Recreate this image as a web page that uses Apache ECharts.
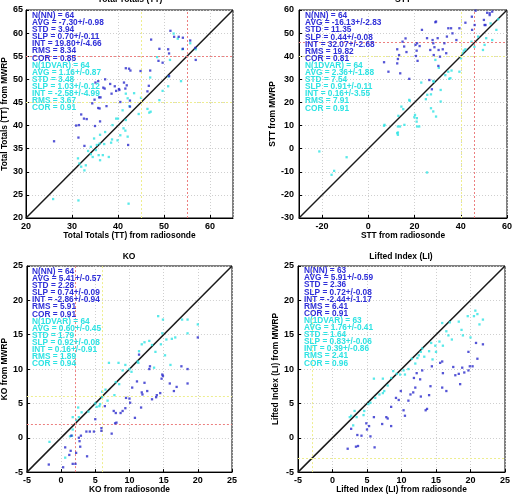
<!DOCTYPE html>
<html lang="en">
<head>
<meta charset="UTF-8">
<title>MWRP vs radiosonde indices</title>
<script src="https://cdn.jsdelivr.net/npm/echarts@6/dist/echarts.min.js"></script>
<style>
    html, body { margin: 0; padding: 0; background: #fff; }
    #chart { width: 525px; height: 495px; }
</style>
</head>
<body>
<div id="chart"></div>
<script>
// scatter data: [radiosonde, MWRP]
var ttNN = [[51.4,60.5],[52.2,59.2],[53.2,59.2],[54.1,59.0],[55.7,58.4],[47.2,58.6],[49.0,56.6],[50.9,56.5],[51.1,55.6],[54.1,56.6],[56.8,56.8],[56.9,54.2],[48.8,54.0],[49.7,53.6],
  [41.7,52.4],[42.4,52.3],[42.7,51.9],[44.9,51.8],[47.0,51.9],[51.1,50.7],[37.2,50.0],[35.7,49.6],[35.1,49.3],[36.8,48.2],[38.3,49.0],[39.3,48.5],[40.2,47.9],
  [41.3,49.3],[41.6,48.0],[39.6,47.5],[37.1,48.0],[38.6,46.9],[46.4,47.4],[46.7,48.6],[40.5,45.1],[34.9,45.6],[34.4,44.8],[35.7,43.8],[36.0,43.7],[37.5,44.2],
  [42.6,45.4],[42.6,44.1],[36.2,46.1],[35.9,46.1],[32.0,42.4],[32.6,41.5],[33.2,41.4],[30.9,40.0],[31.5,40.1],[35.0,39.9],[36.1,40.9],[26.1,36.6],[31.4,37.4],
  [32.7,35.6],[42.2,35.8],[40.3,47.7],[41.9,48.7]];
var ttVAR = [[52.1,59.9],[55.7,57.8],[56.9,56.5],[54.0,56.5],[51.3,54.2],[47.0,50.4],[51.0,50.6],[50.9,48.5],[53.7,49.6],[49.7,47.5],[49.0,45.5],[46.4,43.6],
  [47.1,43.0],[45.0,46.0],[42.5,44.2],[41.7,46.9],[42.1,45.9],[41.0,43.3],[39.6,41.5],[41.7,41.2],[41.2,39.4],[41.6,38.9],[42.1,37.6],[40.5,37.9],[39.9,36.8],
  [38.5,36.3],[38.7,37.0],[37.2,38.6],[36.1,38.0],[34.8,37.2],[35.4,35.8],[36.0,36.1],[35.2,34.7],[35.8,33.6],[36.7,33.6],[38.0,33.2],[36.1,32.5],[34.5,33.2],
  [34.1,33.8],[31.6,31.8],[32.0,31.1],[32.7,30.3],[33.0,31.4],[31.3,32.9],[34.1,35.4],[25.9,24.1],[31.4,23.8],[42.3,23.1],[44.5,42.5],[38.8,40.1],[40.0,41.5],
  [53.0,58.8],[48.5,54.8],[46.8,42.8],[43.5,47.0],[37.0,36.0],[33.5,34.5]];

var sttNN = [[46.4,59.7],[51.4,58.8],[52.5,57.8],[53.6,59.3],[50.0,55.7],[50.7,53.5],[46.0,53.5],[42.0,54.5],[44.8,57.1],[29.3,55.0],[34.6,52.1],[39.4,52.1],
  [36.4,49.9],[34.0,48.5],[38.1,47.0],[44.9,51.4],[23.2,51.4],[25.4,47.8],[27.8,47.0],[28.1,45.6],[28.6,43.9],[30.0,47.8],[32.9,45.6],[30.4,42.7],[32.2,43.0],
  [33.7,41.3],[31.0,39.8],[30.3,35.8],[26.4,29.7],[27.5,25.7],[21.1,45.6],[22.2,44.4],[20.4,44.9],[20.9,42.4],[20.6,40.1],[21.3,38.0],[26.8,42.7],[28.3,40.5],
  [16.1,47.7],[14.8,46.3],[15.5,44.2],[16.5,41.8],[12.5,43.0],[13.3,40.5],[12.8,38.8],[12.5,36.9],[6.8,37.4],[8.7,33.3],[13.8,32.6],[17.7,30.2],[29.0,54.7],
  [35.8,52.1],[50.3,53.5],[52.5,58.6]];
var sttVAR = [[56.2,56.0],[52.9,54.2],[55.4,51.4],[53.6,47.0],[51.0,47.8],[50.3,44.9],[49.6,42.7],[44.6,46.3],[45.9,44.1],[42.0,43.0],[41.3,42.4],[40.6,41.3],
  [40.1,39.1],[39.4,33.3],[34.6,33.3],[35.0,30.2],[33.3,31.8],[35.5,30.5],[29.0,38.4],[28.3,29.0],[28.1,29.3],[22.9,28.6],[25.5,23.3],[24.9,21.4],[27.1,23.5],
  [31.3,25.4],[31.3,20.4],[27.1,17.5],[28.1,16.1],[29.3,13.9],[17.9,20.7],[17.7,21.1],[14.3,18.2],[15.1,17.1],[20.2,14.6],[19.9,13.6],[21.0,13.2],[20.9,11.7],
  [21.1,9.6],[22.0,9.6],[13.0,14.2],[13.7,9.6],[12.8,9.6],[12.8,7.0],[12.5,6.7],[12.8,6.0],[15.6,10.3],[7.0,10.3],[6.8,9.9],[-21.2,-1.2],[-9.4,-3.7],
  [-15.9,-11.3],[-14.8,-9.6],[25.4,-10.3],[47.5,48.5],[36.0,33.8],[30.5,35.0]];

var koNN = [[20.0,14.6],[18.5,10.0],[17.6,10.4],[18.5,7.9],[16.9,7.4],[15.9,7.9],[14.8,9.2],[14.5,6.5],[14.0,6.2],[12.9,10.0],[11.4,12.1],[12.2,8.0],[11.8,6.6],
  [12.6,6.8],[13.3,5.6],[13.9,5.9],[10.4,7.3],[11.1,8.2],[11.7,4.4],[10.0,5.7],[9.4,4.3],[9.0,3.9],[8.7,3.6],[10.8,2.9],[10.1,5.1],[7.9,2.1],[8.1,2.2],[7.4,0.6],
  [6.4,4.6],[5.9,1.4],[5.9,1.0],[4.8,0.9],[4.2,0.9],[3.7,0.9],[2.9,0.3],[2.6,0.0],[1.5,0.3],[2.7,-0.5],[2.8,-1.3],[3.8,-2.7],[2.2,-2.2],[1.2,-2.5],[0.6,-1.4],
  [2.1,-3.8],[1.7,-3.8],[0.3,-4.3],[-1.8,-3.9],[8.0,3.6],[9.5,5.8],[14.7,8.6],[14.9,9.0],[13.0,10.4],[11.9,6.3],[16.5,6.8],[7.7,3.9],[5.0,2.7],[1.4,-1.9]];
var koVAR = [[14.2,17.7],[14.9,17.2],[17.7,17.2],[18.5,17.2],[20.0,16.5],[18.5,15.2],[14.8,15.2],[16.7,14.6],[16.2,14.4],[15.4,14.3],[14.6,13.6],[13.3,13.5],
  [12.2,13.9],[11.8,13.6],[12.9,14.1],[11.4,12.6],[11.2,11.1],[13.6,10.2],[11.3,10.9],[9.4,10.6],[8.4,10.9],[7.0,10.9],[10.0,10.0],[10.3,9.6],[9.0,9.8],
  [8.5,7.8],[8.0,8.1],[7.8,6.2],[6.5,7.0],[6.0,6.7],[6.8,5.4],[5.7,4.9],[5.6,4.6],[5.2,4.5],[5.0,5.0],[4.0,3.8],[3.0,3.7],[2.5,4.4],[2.6,3.0],[2.2,2.6],
  [1.7,3.0],[1.7,1.2],[1.6,0.3],[1.3,0.2],[-1.7,-0.6],[0.6,-2.9],[13.8,12.5],[15.2,12.0],[16.0,10.6],[6.0,5.9]];

var liNN = [[21.8,13.6],[20.8,13.8],[19.7,12.5],[21.0,11.5],[19.9,10.4],[18.8,10.2],[18.3,9.3],[17.5,10.3],[15.9,11.1],[15.6,10.9],[16.0,9.4],[15.9,7.3],
  [14.4,10.4],[13.0,9.8],[12.2,9.4],[12.7,8.5],[11.8,8.7],[12.0,7.3],[11.7,6.6],[12.8,6.0],[14.2,7.5],[11.0,5.4],[11.3,6.3],[9.9,6.8],[9.2,5.8],[9.6,5.5],
  [8.5,4.5],[10.3,4.0],[10.5,3.2],[13.5,4.0],[13.7,4.2],[8.0,2.8],[7.8,3.0],[7.2,2.0],[6.0,3.0],[5.3,1.7],[4.9,2.1],[5.0,1.2],[5.5,0.2],[4.2,0.3],[3.6,0.4],
  [6.1,-1.4],[3.7,-1.2],[3.4,-1.3],[2.7,1.3],[2.2,-1.6],[19.1,9.5],[19.7,9.8],[20.3,10.4],[17.8,9.1],[18.5,7.8],[16.5,6.8],[14.0,6.2],[8.5,1.7]];
var liVAR = [[20.7,18.5],[20.5,17.7],[21.8,17.2],[21.0,18.0],[21.3,16.5],[19.6,17.7],[20.0,14.6],[18.9,14.9],[18.7,15.7],[18.3,16.9],[17.0,16.8],[15.9,16.7],
  [16.8,14.9],[16.5,15.5],[17.3,14.3],[16.0,13.4],[15.5,14.0],[15.0,12.5],[14.9,13.4],[14.5,11.4],[14.3,13.8],[14.0,12.6],[13.3,11.8],[13.0,13.0],[12.8,12.5],
  [12.5,12.0],[12.3,11.6],[12.0,10.8],[11.5,11.5],[11.0,10.0],[10.5,9.2],[10.3,9.8],[9.8,9.2],[9.3,9.3],[8.8,9.7],[8.5,8.7],[8.0,7.6],[7.5,6.8],[7.3,8.6],
  [7.3,6.5],[6.8,6.3],[6.2,5.8],[6.0,8.6],[5.5,5.1],[5.2,4.9],[4.6,3.9],[4.5,3.3],[3.5,3.0],[3.2,3.9],[3.0,1.8],[2.7,3.2],[2.5,3.0]];

var titles = ['Total Totals (TT)', 'STT', 'KO', 'Lifted Index (LI)'];
var xNames = ['Total Totals (TT) from radiosonde', 'STT from radiosonde', 'KO from radiosonde', 'Lifted Index (LI) from radiosonde'];
var yNames = ['Total Totals (TT) from MWRP', 'STT from MWRP', 'KO from MWRP', 'Lifted Index (LI) from MWRP'];
var sttXTicks = [-20, 0, 20, 40, 60];

var statsNN = [
  ['N(NN) = 64', 'AVG = -7.30+/-0.98', 'STD = 3.94', 'SLP = 0.70+/-0.11', 'INT = 19.80+/-4.66', 'RMS = 8.34', 'COR = 0.85'],
  ['N(NN) = 64', 'AVG = -16.13+/-2.83', 'STD = 11.35', 'SLP = 0.44+/-0.08', 'INT = 32.07+/-2.68', 'RMS = 19.82', 'COR = 0.81'],
  ['N(NN) = 64', 'AVG = 5.41+/-0.57', 'STD = 2.28', 'SLP = 0.74+/-0.09', 'INT = -2.86+/-0.94', 'RMS = 5.91', 'COR = 0.91'],
  ['N(NN) = 63', 'AVG = 5.91+/-0.59', 'STD = 2.36', 'SLP = 0.72+/-0.08', 'INT = -2.44+/-1.17', 'RMS = 6.41', 'COR = 0.91']
];
var statsVAR = [
  ['N(1DVAR) = 64', 'AVG = 1.16+/-0.87', 'STD = 3.48', 'SLP = 1.03+/-0.12', 'INT = -2.58+/-4.99', 'RMS = 3.67', 'COR = 0.91'],
  ['N(1DVAR) = 64', 'AVG = 2.36+/-1.88', 'STD = 7.54', 'SLP = 0.91+/-0.11', 'INT = 0.16+/-3.55', 'RMS = 7.91', 'COR = 0.91'],
  ['N(1DVAR) = 64', 'AVG = 0.60+/-0.45', 'STD = 1.79', 'SLP = 0.92+/-0.08', 'INT = 0.16+/-0.91', 'RMS = 1.89', 'COR = 0.94'],
  ['N(1DVAR) = 63', 'AVG = 1.76+/-0.41', 'STD = 1.64', 'SLP = 0.83+/-0.06', 'INT = 0.39+/-0.86', 'RMS = 2.41', 'COR = 0.96']
];
// red / yellow threshold lines [red, yellow]
var thresholds = [[55, 45], [46, 40], [2, 6], [null, -3]];

var nnData = [ttNN, sttNN, koNN, liNN];
var varData = [ttVAR, sttVAR, koVAR, liVAR];

var FONT = 'Liberation Sans, Arial, sans-serif';
var BLUE = '#2f2fd8';
var CYAN = '#2fe3e3';

var layout = [
    {grid: {left: 26, top: 10, width: 207, height: 208}, min: 20, max: 65, xInt: 10, yInt: 5, yGap: 11, yMargin: 3, title: [130, 0], text: [32, 15.7]},
    {grid: {left: 299, top: 10, width: 208, height: 208}, min: -30, max: 60, xInt: null, yInt: 10, yGap: 15, yMargin: 5, title: [403, 0], text: [305, 16]},
    {grid: {left: 26, top: 266, width: 206, height: 207}, min: -5, max: 25, xInt: 5, yInt: 5, yGap: 11.5, yMargin: 4, title: [129, 257], text: [32, 271.7]},
    {grid: {left: 298, top: 266, width: 207, height: 207}, min: -5, max: 25, xInt: 5, yInt: 5, yGap: 11, yMargin: 4, title: [401, 257], text: [304, 271]}
];

var chart = echarts.init(document.getElementById('chart'));

var grids = [], xAxes = [], yAxes = [], series = [], graphics = [];

function baseAxis(name, gap) {
    return {
        type: 'value',
        name: name,
        nameLocation: 'middle',
        nameGap: gap,
        nameTextStyle: {color: '#000', fontSize: 8.4, fontWeight: 'bold', fontFamily: FONT},
        axisLine: {show: true, onZero: false, lineStyle: {color: '#000', width: 1}},
        axisTick: {show: true, inside: true, length: 3, lineStyle: {color: '#000'}},
        axisLabel: {color: '#000', fontSize: 9, fontWeight: 'bold', fontFamily: FONT, margin: 4},
        splitLine: {show: true, lineStyle: {color: '#cfcfcf', type: [1, 2], width: 1}}
    };
}

layout.forEach(function (p, i) {
    grids.push(Object.assign({show: true, borderColor: '#000', borderWidth: 1, containLabel: false}, p.grid));

    var xa = baseAxis(xNames[i], 12);
    xa.gridIndex = i;
    xa.min = p.min;
    xa.max = p.max;
    if (p.xInt) {
        xa.interval = p.xInt;
        xa.axisLabel.showMaxLabel = (p.max % p.xInt === 0);
    } else {
        xa.axisTick.customValues = sttXTicks;
        xa.axisLabel.customValues = sttXTicks;
    }
    xAxes.push(xa);

    var ya = baseAxis(yNames[i], p.yGap);
    ya.gridIndex = i;
    ya.min = p.min;
    ya.max = p.max;
    ya.interval = p.yInt;
    ya.axisLabel.margin = p.yMargin;
    yAxes.push(ya);

    var marks = [];
    var th = thresholds[i];
    if (th[0] !== null) {
        marks.push({xAxis: th[0], lineStyle: {color: '#ec7f7f'}});
        marks.push({yAxis: th[0], lineStyle: {color: '#ec7f7f'}});
    }
    if (th[1] !== null) {
        marks.push({xAxis: th[1], lineStyle: {color: '#eeee90'}});
        marks.push({yAxis: th[1], lineStyle: {color: '#eeee90'}});
    }

    // 1:1 line
    series.push({
        type: 'line', xAxisIndex: i, yAxisIndex: i,
        data: [[p.min, p.min], [p.max, p.max]],
        symbol: 'none', silent: true,
        lineStyle: {color: '#1a1a1a', width: 1.5},
        markLine: {
            silent: true, symbol: 'none', label: {show: false},
            lineStyle: {type: [2, 2], width: 1},
            data: marks
        },
        z: 3
    });
    series.push({
        type: 'scatter', xAxisIndex: i, yAxisIndex: i,
        data: varData[i], symbol: 'rect', symbolSize: 2.3,
        itemStyle: {color: CYAN}, z: 4
    });
    series.push({
        type: 'scatter', xAxisIndex: i, yAxisIndex: i,
        data: nnData[i], symbol: 'rect', symbolSize: 2.3,
        itemStyle: {color: '#2a2acc'}, z: 5
    });

    graphics.push({
        type: 'text', x: p.title[0], y: p.title[1], z: 10,
        style: {text: titles[i], fill: '#000', font: 'bold 8.5px ' + FONT, textAlign: 'center', textVerticalAlign: 'middle'}
    });

    var lines = statsNN[i].concat(statsVAR[i]);
    lines.forEach(function (t, k) {
        graphics.push({
            type: 'text', x: p.text[0], y: p.text[1] + k * 7.1, z: 10,
            style: {text: t, fill: k < 7 ? BLUE : CYAN, font: 'bold 8.3px ' + FONT, textVerticalAlign: 'middle'}
        });
    });
});

var option = {
    animation: false,
    backgroundColor: '#fff',
    grid: grids,
    xAxis: xAxes,
    yAxis: yAxes,
    series: series,
    graphic: graphics
};
chart.setOption(option);
</script>
</body>
</html>
